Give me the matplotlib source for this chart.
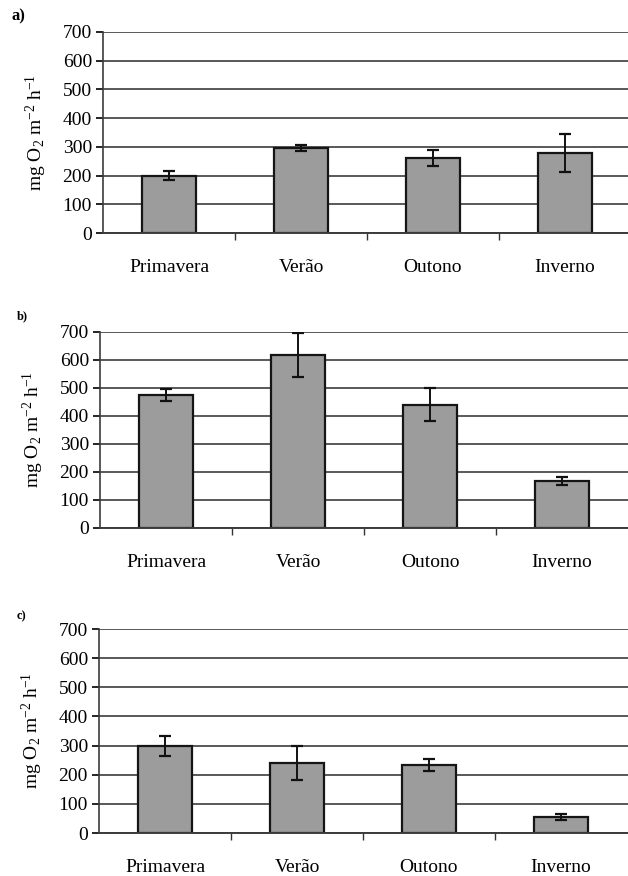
import numpy as np
import matplotlib.pyplot as plt

plt.rcParams['font.family'] = ['Liberation Serif', 'DejaVu Serif']
plt.rcParams['mathtext.fontset'] = 'custom'
plt.rcParams['mathtext.rm'] = 'Liberation Serif'
plt.rcParams['mathtext.it'] = 'Liberation Serif:italic'

seasons = ['Primavera', 'Verão', 'Outono', 'Inverno']

# means and standard errors (mg O2 m-2 h-1) per panel
mean_a = [200, 297, 260, 280]
err_a = [15, 10, 28, 66]
mean_b = [475, 618, 440, 168]
err_b = [22, 78, 59, 13]
mean_c = [298, 240, 233, 55]
err_c = [34, 57, 20, 9]

panel_tags = ['a)', 'b)', 'c)']

'''
axes boxes in figure fractions: left, bottom, width, height
'''
W, H = 628, 876
boxes = [
    (103 / W, 1 - 233 / H, (628 - 103) / W, 201 / H),
    (100 / W, 1 - 528 / H, (628 - 100) / W, 196 / H),
    (99 / W, 1 - 833 / H, (628 - 99) / W, 204 / H),
]
tag_pos = [(12, 16, 12), (17, 316, 9), (17, 616, 9)]

fig = plt.figure(figsize=(W / 100, H / 100), dpi=100)

for means, errs, box, tag, tp in zip([mean_a, mean_b, mean_c],
                                     [err_a, err_b, err_c],
                                     boxes, panel_tags, tag_pos):
    ax = fig.add_axes(box)
    x = np.arange(len(seasons))
    ax.set_axisbelow(True)
    ax.yaxis.grid(True, color='#3c3c3c', linewidth=1.2)
    ax.bar(x, means, width=0.41, color='#9c9c9c', edgecolor='#151515',
           linewidth=1.6, zorder=2)
    ax.errorbar(x, means, yerr=errs, fmt='none', ecolor='#111111',
                elinewidth=1.4, capsize=4, capthick=1.6, zorder=3)

    # scale width so each category spans ~132 px
    px_w = box[2] * W
    ax.set_xlim(-0.5, -0.5 + px_w / 132.0)
    ax.set_ylim(0, 700)
    ax.set_yticks(range(0, 701, 100))

    ax.set_xticks(x)
    ax.set_xticklabels(seasons, fontsize=14)
    ax.tick_params(axis='x', which='major', length=0, pad=19)
    ax.set_xticks([0.5, 1.5, 2.5], minor=True)
    ax.tick_params(axis='x', which='minor', length=5, width=1, color='#333333')
    ax.tick_params(axis='y', labelsize=14, length=5, width=1.2, pad=3)

    for s in ['top', 'right']:
        ax.spines[s].set_visible(False)
    ax.spines['left'].set_linewidth(1.2)
    ax.spines['left'].set_color('#3c3c3c')
    ax.spines['bottom'].set_linewidth(1.4)
    ax.spines['bottom'].set_color('#3c3c3c')

    ax.set_ylabel(r'mg O$_2$ m$^{-2}$ h$^{-1}$', fontsize=14, labelpad=10)

    fig.text(tp[0] / W, 1 - tp[1] / H, tag, fontsize=tp[2], fontweight='bold',
             va='center', ha='left')

fig.savefig('out.png', dpi=100)
